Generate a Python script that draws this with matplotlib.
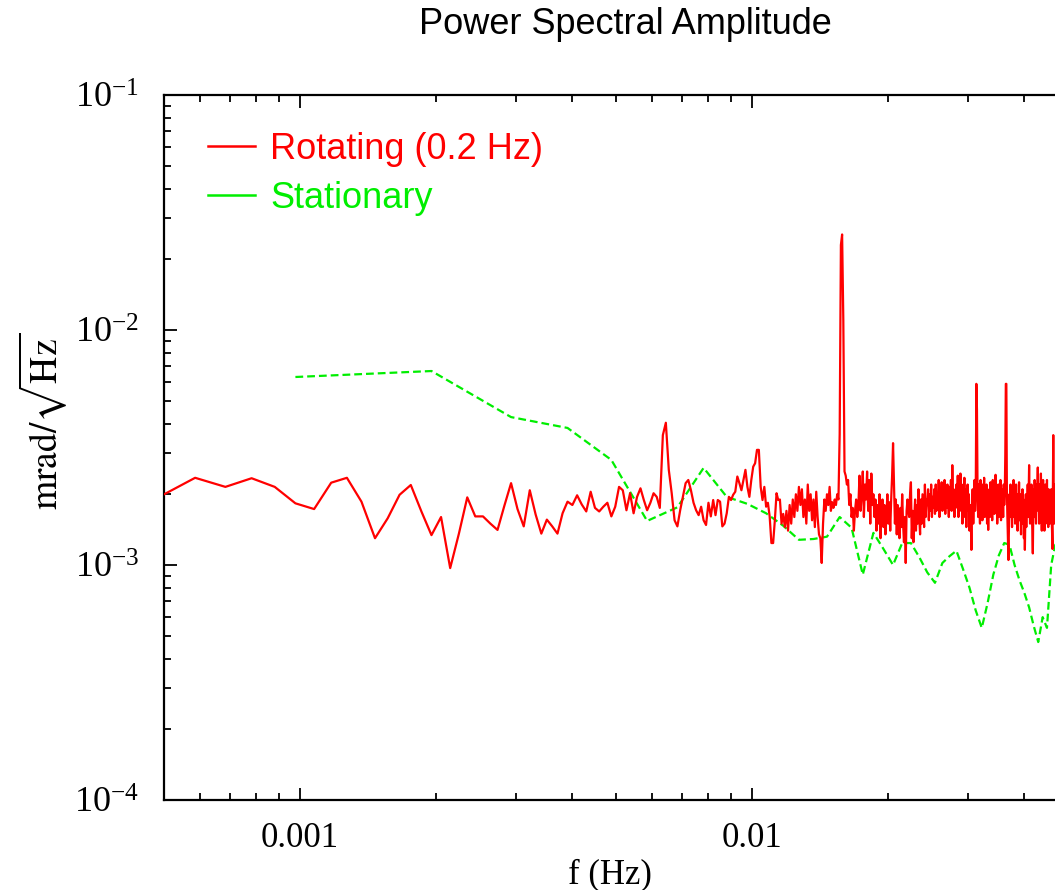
import numpy as np
import matplotlib
matplotlib.use("Agg")
import matplotlib.pyplot as plt
from matplotlib.lines import Line2D
from matplotlib.ticker import LogLocator, FuncFormatter, NullFormatter
from matplotlib.font_manager import FontProperties

# ---------------- data ----------------
title = "Power Spectral Amplitude"
x_label = "f (Hz)"
y_label = r"$\mathrm{mrad}/\sqrt{\mathrm{Hz}}$"
series_labels = ["Rotating (0.2 Hz)", "Stationary"]

# Rotating: FFT bins of width 1/10240 Hz starting at bin 5, amplitude in 1e-3 mrad/sqrt(Hz)
rot_first_bin = 5
rot_bin_width = 1.0 / 10240.0
rot_amp = [
    # bins 5-52
    1.95, 2.35, 2.15, 2.34, 2.15, 1.83, 1.73, 2.24, 2.35, 1.86,
    1.30, 1.58, 1.99, 2.19, 1.69, 1.34, 1.60, 0.97, 1.36, 1.94,
    1.61, 1.61, 1.50, 1.41, 1.79, 2.23, 1.73, 1.46, 2.08, 1.64,
    1.36, 1.56, 1.46, 1.36, 1.66, 1.86, 1.80, 1.98, 1.81, 1.69,
    2.05, 1.75, 1.69, 1.77, 1.84, 1.61, 1.77, 2.15,
    # bins 53-117
    2.08, 1.71, 2.02, 1.66, 1.95, 2.12, 1.89, 1.71, 1.84, 2.02,
    1.95, 1.75, 3.57, 4.03, 2.54, 2.02, 1.55, 1.46, 1.71, 1.95,
    2.23, 2.30, 2.08, 1.84, 1.71, 1.63, 1.77, 1.55, 1.48, 1.84,
    1.61, 1.89, 1.63, 1.89, 1.86, 1.46, 1.50, 1.66, 1.95, 1.89,
    1.99, 2.05, 2.38, 2.23, 2.08, 2.30, 2.54, 2.15, 1.95, 2.30,
    2.62, 2.71, 3.09, 3.09, 2.15, 1.89, 2.15, 1.77, 1.84, 1.61,
    1.24, 1.24, 1.55, 2.02, 1.89,
    # bins 118-175
    1.90, 1.50, 1.65, 1.45, 1.70, 1.40, 1.80, 1.50, 1.90, 1.60,
    2.00, 1.70, 2.15, 1.80, 2.10, 1.60, 1.90, 1.50, 2.20, 1.70,
    2.00, 1.55, 1.90, 1.45, 2.05, 1.60, 1.35, 1.30, 1.02, 1.50,
    1.90, 1.70, 2.00, 1.80, 2.15, 1.70, 1.85, 1.75, 1.90, 1.80,
    2.00, 1.90, 3.60, 23.0, 25.5, 11.0, 2.50, 2.40, 2.20, 2.30,
    1.80, 2.00, 1.60, 1.75, 1.40, 1.70, 1.90, 1.60,
    # bins 176-190
    1.80, 2.40, 1.70, 2.00, 2.50, 1.60, 2.20, 1.90, 2.50, 1.70,
    2.30, 1.50, 2.45, 1.80, 2.00,
    # bins 191-208
    1.60, 1.90, 1.40, 1.80, 1.50, 2.00, 1.30, 1.70, 1.90, 1.45,
    1.80, 1.35, 1.60, 2.00, 1.50, 1.85, 1.40, 1.90,
    # bins 209-211
    2.40, 3.30, 2.20,
    # bins 212-230
    1.50, 1.90, 1.35, 1.80, 1.60, 1.30, 1.75, 1.45, 2.00, 1.50,
    1.25, 1.60, 1.02, 1.70, 1.90, 1.70, 1.60, 2.00, 2.25,
    # bins 231-260
    1.30, 1.70, 1.25, 1.60, 1.90, 1.40, 1.80, 1.50, 2.10, 1.60,
    1.35, 1.90, 1.50, 2.00, 1.70, 1.45, 2.20, 1.60, 1.90, 1.80,
    2.10, 1.55, 2.00, 1.70, 2.20, 1.60, 1.95, 1.75, 2.10, 1.65,
    # bins 261-290
    2.20, 1.70, 2.00, 1.85, 2.30, 1.60, 2.10, 1.90, 2.25, 1.70,
    2.00, 1.80, 2.30, 1.65, 2.10, 1.75, 2.20, 1.90, 1.60, 2.15,
    1.80, 2.30, 1.70, 2.66, 1.90, 2.10, 1.60, 2.00, 1.75, 2.20,
    # bins 291-320
    1.80, 2.40, 1.60, 2.10, 1.90, 2.45, 1.70, 2.20, 1.50, 2.00,
    1.80, 2.35, 1.60, 2.10, 1.45, 1.90, 2.20, 1.70, 2.00, 1.40,
    1.80, 1.60, 1.16, 1.70, 2.10, 1.50, 1.90, 2.30, 1.70, 2.00,
    # bins 321-322
    5.90, 4.60,
    # bins 323-371
    2.00, 1.60, 2.20, 1.80, 1.50, 2.30, 1.70, 2.00, 1.55, 2.20,
    1.80, 2.35, 1.60, 2.00, 1.75, 2.20, 1.50, 1.90, 1.41, 1.80,
    2.10, 1.60, 2.25, 1.70, 2.00, 1.55, 2.30, 1.80, 2.10, 1.65,
    2.00, 2.42, 1.70, 2.10, 1.50, 1.90, 2.20, 1.60, 2.00, 1.80,
    2.30, 1.55, 2.10, 1.70, 1.95, 1.60, 2.20, 1.80, 2.00,
    # bins 372-378
    2.94, 5.90, 5.90, 2.10, 1.60, 1.30, 1.05,
    # bins 379-420
    1.50, 2.00, 1.70, 2.20, 1.60, 1.90, 1.45, 2.10, 1.80, 2.30,
    1.60, 2.00, 1.50, 1.85, 2.20, 1.65, 2.00, 1.40, 1.90, 1.70,
    2.25, 1.55, 2.00, 1.80, 1.35, 1.90, 1.60, 2.10, 1.50, 1.90,
    1.30, 1.70, 1.16, 1.60, 2.00, 1.45, 1.90, 1.70, 2.20, 1.60,
    2.00, 2.66,
    # bins 421-480
    1.90, 1.50, 2.00, 1.70, 2.20, 1.60, 1.40, 1.12, 1.70, 2.10,
    1.60, 2.30, 1.80, 2.00, 1.50, 2.20, 1.90, 2.10, 2.60, 1.70,
    2.00, 1.50, 2.20, 1.60, 2.00, 2.45, 1.80, 1.40, 2.10, 1.70,
    2.30, 1.60, 2.00, 1.40, 1.90, 2.20, 1.50, 2.00, 1.70, 2.30,
    1.60, 1.90, 1.45, 2.10, 1.60, 2.00, 1.50, 1.90, 1.70, 2.10,
    1.60, 1.40, 1.17, 2.20, 3.57, 2.00, 1.50, 2.20, 1.70, 1.90,
]

# Stationary: FFT bins of width 1/1024 Hz starting at bin 1, amplitude in 1e-3 mrad/sqrt(Hz)
sta_first_bin = 1
sta_bin_width = 1.0 / 1024.0
sta_amp = [
    6.31, 6.69, 4.26, 3.83, 2.80, 1.54, 1.76, 2.59, 1.95, 1.82,
    1.66, 1.47, 1.28, 1.29, 1.32, 1.60, 1.44, 0.91, 1.37, 1.17,
    1.00, 1.24, 1.24, 1.08, 0.93, 0.84, 1.02, 1.09, 1.15, 0.96,
    0.80, 0.64, 0.54, 0.69, 0.91, 1.10, 1.24, 1.22, 1.00, 0.86,
    0.76, 0.66, 0.55, 0.47, 0.60, 0.54, 1.00, 1.22, 1.20, 1.10,
    1.00,
]
amp_unit = 1e-3

x_limits = (0.0005, 0.05)
y_limits = (1e-4, 1e-1)

red = "#ff0000"
green = "#00ee00"

# ---------------- figure ----------------
W, H = 1055, 890
fig = plt.figure(figsize=(W / 100, H / 100), dpi=100)
fig.patch.set_facecolor("white")

plt.rcParams["font.family"] = ["Liberation Serif", "DejaVu Serif"]
plt.rcParams["mathtext.fontset"] = "stix"

ax_left, ax_right, ax_top, ax_bottom = 164, 1068, 95, 800
ax = fig.add_axes([ax_left / W, (H - ax_bottom) / H,
                   (ax_right - ax_left) / W, (ax_bottom - ax_top) / H])

rot_f = (np.arange(len(rot_amp)) + rot_first_bin) * rot_bin_width
sta_f = (np.arange(len(sta_amp)) + sta_first_bin) * sta_bin_width

ax.plot(rot_f, np.array(rot_amp) * amp_unit, color=red, lw=1.6, zorder=3)
ax.plot(sta_f, np.array(sta_amp) * amp_unit, color=green, lw=1.6,
        linestyle=(0, (3.5, 1.8)), zorder=2)

ax.set_xscale("log")
ax.set_yscale("log")
ax.set_xlim(*x_limits)
ax.set_ylim(*y_limits)

for s in ax.spines.values():
    s.set_linewidth(1.6)
    s.set_color("black")

ax.xaxis.set_major_locator(LogLocator(base=10, numticks=10))
ax.xaxis.set_minor_locator(LogLocator(base=10, subs=np.arange(2, 10), numticks=20))
ax.xaxis.set_major_formatter(FuncFormatter(lambda v, p: f"{v:g}"))
ax.xaxis.set_minor_formatter(NullFormatter())
ax.yaxis.set_major_locator(LogLocator(base=10, numticks=10))
ax.yaxis.set_minor_locator(LogLocator(base=10, subs=np.arange(2, 10), numticks=20))
ax.yaxis.set_minor_formatter(NullFormatter())

ax.tick_params(which="both", direction="in", top=True, right=True, width=1.3, color="black")
ax.tick_params(which="major", length=9)
ax.tick_params(which="minor", length=5)
ax.tick_params(axis="x", which="major", pad=16, labelsize=25)
ax.tick_params(axis="y", which="major", pad=18, labelsize=26)

ax.set_xlabel(x_label, fontsize=25, family="Liberation Serif")
ax.xaxis.set_label_coords((610 - ax_left) / (ax_right - ax_left), -(875 - ax_bottom) / (ax_bottom - ax_top))
ax.xaxis.label.set_va("center")

ax.set_ylabel(y_label, fontsize=27)
ax.yaxis.label.set_va("center")
ax.yaxis.set_label_coords(-(ax_left - 43) / (ax_right - ax_left), (ax_bottom - 421) / (ax_bottom - ax_top))

fig.text(625 / W, 1 - 25 / H, title, ha="center", va="center",
         family="Liberation Sans", fontsize=26)

handles = [Line2D([], [], color=red, lw=1.8), Line2D([], [], color=green, lw=1.8)]
leg = ax.legend(handles, series_labels, loc="upper left",
                bbox_to_anchor=((208 - ax_left) / (ax_right - ax_left), (ax_bottom - 132) / (ax_bottom - ax_top)),
                frameon=False, prop=FontProperties(family="Liberation Sans", size=26),
                handlelength=1.3, handletextpad=0.42, labelspacing=0.39,
                borderpad=0, borderaxespad=0)
for t, c in zip(leg.get_texts(), [red, green]):
    t.set_color(c)

fig.savefig("out.png", dpi=100, facecolor="white")
